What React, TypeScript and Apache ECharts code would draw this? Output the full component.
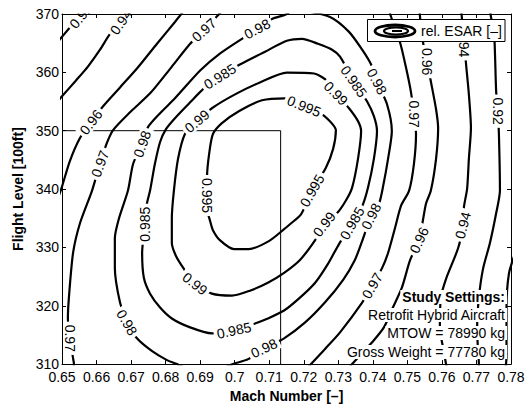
import React, { useEffect, useRef } from 'react';
import * as echarts from 'echarts';

const FONT = "'Liberation Sans', Arial, Helvetica, sans-serif";

// Axis ranges / ticks
const machMin = 0.65, machMax = 0.78, machStep = 0.01;
const flMin = 310, flMax = 370, flStep = 10;

// Contour lines, [Mach, FL]
const c090 = [[0.7812,329.0],[0.7794,325.5],[0.7787,319.7],[0.7787,314.6],[0.7787,311.2],[0.7784,309.2]];
const c092Left = [[0.6488,365.24],[0.65,366.09],[0.6529,368.13],[0.6555,369.66],[0.6569,370.85]];
const c092Right = [[0.7739,371.02],[0.7742,369.49],[0.7751,366.94],[0.7757,356.74],[0.7762,353.34],[0.7765,349.43],[0.7768,339.74],[0.7757,335.84],[0.7739,330.74],[0.7719,326.32],[0.7707,321.39],[0.7702,316.29],[0.7704,312.89],[0.7707,310.0],[0.7707,308.98]];
const c094Left = [[0.6488,355.04],[0.65,355.89],[0.6538,358.44],[0.6575,360.99],[0.661,363.88],[0.6639,366.6],[0.6671,368.64],[0.6685,370.85]];
const c094Right = [[0.7655,371.02],[0.7664,365.58],[0.767,361.33],[0.7678,356.23],[0.7684,350.45],[0.7678,345.18],[0.7673,340.08],[0.7664,337.02],[0.7661,333.8],[0.7647,329.89],[0.7612,324.62],[0.7597,321.39],[0.7594,316.29],[0.7603,312.89],[0.7612,310.0],[0.7615,308.98]];
const c096Left = [[0.6488,338.38],[0.65,340.42],[0.6523,344.84],[0.6552,348.75],[0.6584,351.47],[0.6619,354.19],[0.6668,357.42],[0.6717,360.65],[0.6775,364.9],[0.6827,368.64],[0.6859,371.02]];
const c096Right = [[0.7534,371.02],[0.7545,365.24],[0.7557,361.84],[0.7568,358.44],[0.7583,353.68],[0.7589,350.45],[0.7583,345.18],[0.7568,339.74],[0.7554,337.53],[0.7545,334.65],[0.7534,331.25],[0.7508,327.85],[0.7484,323.09],[0.7458,319.69],[0.7432,316.29],[0.7398,313.74],[0.7363,311.53],[0.734,310.0],[0.7322,308.81]];
const c097Left = [[0.6529,308.47],[0.6535,309.83],[0.6532,311.02],[0.6523,314.42],[0.6517,317.82],[0.652,321.39],[0.6532,329.04],[0.6552,334.14],[0.6587,339.74],[0.661,344.33],[0.663,347.9],[0.6648,350.11],[0.6697,353.17],[0.6755,356.4],[0.6818,360.99],[0.6871,364.9],[0.6911,367.28],[0.6955,370.0],[0.6972,371.19]];
const c097Right = [[0.7444,371.36],[0.745,370.0],[0.7479,365.07],[0.7496,360.82],[0.751,356.74],[0.7519,352.83],[0.7525,349.43],[0.7519,344.33],[0.7505,339.74],[0.7482,337.19],[0.7464,333.29],[0.7444,329.04],[0.7427,326.49],[0.7398,323.43],[0.7369,320.54],[0.7305,315.44],[0.7261,312.55],[0.7221,310.0],[0.7204,308.81]];
const c098Left = [[0.7175,371.36],[0.7151,370.0],[0.7108,369.15],[0.7065,367.45],[0.7021,365.75],[0.6957,363.2],[0.69,360.31],[0.6827,355.55],[0.6784,353.0],[0.6749,350.62],[0.6732,347.73],[0.6706,344.33],[0.6691,339.74],[0.6665,334.98],[0.6653,331.59],[0.6653,326.49],[0.6668,320.54],[0.6688,317.14],[0.6717,314.42],[0.6761,312.21],[0.6804,310.68],[0.6833,310.0],[0.6862,309.15]];
const c098Right = [[0.7189,370.68],[0.7276,369.49],[0.7331,366.94],[0.7369,363.88],[0.7395,361.33],[0.7412,358.44],[0.7441,354.53],[0.7455,349.94],[0.7444,345.18],[0.7429,340.25],[0.7418,337.53],[0.7395,335.33],[0.7369,331.08],[0.7348,327.85],[0.7314,324.45],[0.7261,320.54],[0.7204,317.14],[0.7143,314.42],[0.7085,312.72],[0.7039,310.85],[0.6995,310.0],[0.6963,309.15]];
const c0985 = [[0.6957,359.29],[0.7015,361.33],[0.7088,363.54],[0.7151,365.41],[0.7195,365.75],[0.7241,364.9],[0.7282,363.88],[0.7305,362.69],[0.7345,358.44],[0.7383,355.04],[0.7403,352.49],[0.7412,349.94],[0.7403,345.18],[0.7386,340.25],[0.7369,337.02],[0.734,334.14],[0.7302,330.57],[0.727,327.17],[0.7233,323.94],[0.7189,321.39],[0.7143,319.18],[0.7096,317.82],[0.7059,316.97],[0.6998,315.78],[0.6934,315.27],[0.6871,316.29],[0.6818,317.82],[0.6784,319.69],[0.6755,322.07],[0.6737,324.79],[0.6732,329.04],[0.674,333.97],[0.6746,337.53],[0.6755,339.74],[0.6769,344.33],[0.6784,348.07],[0.6801,350.28],[0.6827,352.15],[0.6871,354.87],[0.6911,357.25],[0.6957,359.29]];
const c099 = [[0.6891,351.64],[0.6934,353.85],[0.7001,356.23],[0.7073,358.27],[0.7151,359.97],[0.723,359.8],[0.727,358.44],[0.7293,356.4],[0.7331,353.85],[0.7357,351.64],[0.7366,349.94],[0.7357,345.18],[0.734,340.25],[0.7322,338.04],[0.7296,335.84],[0.7259,333.97],[0.7235,331.42],[0.7189,327.85],[0.7143,325.64],[0.7096,323.94],[0.7044,322.58],[0.6992,321.73],[0.6934,322.07],[0.6885,323.77],[0.6853,326.32],[0.683,328.53],[0.6818,330.74],[0.6818,334.98],[0.6824,339.74],[0.6836,345.18],[0.6856,349.43],[0.6891,351.64]];
const c0995 = [[0.692,338.89],[0.692,342.12],[0.6926,346.03],[0.6937,349.43],[0.6963,351.3],[0.7012,353.34],[0.7079,355.21],[0.7146,355.55],[0.7201,354.19],[0.7247,353.0],[0.727,351.98],[0.7293,350.11],[0.7285,346.88],[0.7264,343.65],[0.7224,339.74],[0.7192,335.67],[0.716,333.97],[0.7143,333.12],[0.7099,331.08],[0.7041,329.72],[0.6998,329.72],[0.6957,331.25],[0.6937,332.95],[0.6929,334.48],[0.692,336.68],[0.692,338.89]];

const contourLines = [c090, c092Left, c092Right, c094Left, c094Right, c096Left, c096Right, c097Left, c097Right, c098Left, c098Right, c0985, c099, c0995];

// Study-settings box outline (thin lines)
const boxPath = [[0.65, 350], [0.7133, 350], [0.7133, 310]];

// Contour labels
const labelText = ['0.92','0.94','0.96','0.97','0.97','0.97','0.98','0.98','0.98','0.985','0.985','0.99','0.995','0.995','0.99','0.985','0.98','0.995','0.99','0.985','0.98','0.99','0.985','0.98','0.97','0.97','0.96','0.96','0.94','0.94','0.92'];
const labelPos = [[0.6555,369.66],[0.6671,368.64],[0.6584,351.47],[0.661,344.33],[0.6911,367.28],[0.6523,314.42],[0.7065,367.45],[0.6732,347.73],[0.6688,317.14],[0.6957,359.29],[0.674,333.97],[0.6891,351.64],[0.692,338.89],[0.7201,354.19],[0.7293,356.4],[0.7345,358.44],[0.7412,358.44],[0.7224,339.74],[0.7259,333.97],[0.734,334.14],[0.7395,335.33],[0.6885,323.77],[0.6998,315.78],[0.7085,312.72],[0.7398,323.43],[0.7519,352.83],[0.7557,361.84],[0.7534,331.25],[0.7664,364.9],[0.7661,333.8],[0.7762,353.34]];
const labelAngle = [50,55,52,70,42,-90,28,70,-60,32,90,40,-90,-22,-45,-55,-62,60,52,60,63,-38,12,25,60,-90,-90,65,-90,75,-90];

const studyLines = ['Study Settings:', 'Retrofit Hybrid Aircraft', 'MTOW = 78990 kg', 'Gross Weight = 77780 kg'];
const legendLabel = 'rel. ESAR [–]';

export default function App() {
  const ref = useRef<HTMLDivElement>(null);
  useEffect(() => {
    const chart = echarts.init(ref.current!, undefined, { renderer: 'svg' });
    const axisCommon = {
      axisLine: { show: true, onZero: false, lineStyle: { color: '#000', width: 1 } },
      axisTick: { show: true, inside: true, length: 4, lineStyle: { color: '#000', width: 1 } },
      splitLine: { show: false },
      z: 10,
    };
    const series: any[] = contourLines.map((pts) => ({
      type: 'line',
      data: pts,
      symbol: 'none',
      smooth: 0.25,
      silent: true,
      lineStyle: { color: '#000', width: 2.2 },
      z: 2,
    }));
    series.push({
      type: 'line',
      data: boxPath,
      symbol: 'none',
      silent: true,
      lineStyle: { color: '#000', width: 1 },
      z: 3,
    });
    series.push({
      type: 'custom',
      silent: true,
      z: 4,
      data: labelPos.map((v, i) => [v[0], v[1], labelAngle[i], i]),
      renderItem: (params: any, api: any) => {
        const p = api.coord([api.value(0), api.value(1)]);
        const ang = api.value(2);
        const idx = api.value(3);
        return {
          type: 'text',
          x: p[0],
          y: p[1],
          rotation: (ang * Math.PI) / 180,
          style: {
            text: labelText[idx],
            fill: '#000',
            font: `14px ${FONT}`,
            align: 'center',
            verticalAlign: 'middle',
            backgroundColor: '#fff',
            padding: [0, 3],
          },
        };
      },
    });

    const studyY = [297, 315, 333, 352];
    const graphic: any[] = [
      { type: 'rect', shape: { x: 62.5, y: 0, width: 466, height: 13.5 }, style: { fill: '#fff' }, z: 5, silent: true },
      { type: 'rect', shape: { x: 367.5, y: 19.5, width: 137.5, height: 22 }, style: { fill: '#fff', stroke: '#000', lineWidth: 1 }, z: 20 },
      { type: 'ellipse', shape: { cx: 395, cy: 31, rx: 20, ry: 6 }, style: { fill: 'none', stroke: '#000', lineWidth: 2.8 }, z: 21 },
      { type: 'ellipse', shape: { cx: 396, cy: 31, rx: 12, ry: 3.6 }, style: { fill: 'none', stroke: '#000', lineWidth: 2.2 }, z: 21 },
      { type: 'line', shape: { x1: 392, y1: 31, x2: 402, y2: 31 }, style: { stroke: '#000', lineWidth: 2 }, z: 21 },
      { type: 'text', x: 421, y: 31, z: 21, style: { text: legendLabel, fill: '#000', font: `14px ${FONT}`, align: 'left', verticalAlign: 'middle' } },
    ];
    studyLines.forEach((t, i) => {
      graphic.push({
        type: 'text', x: 507, y: studyY[i], z: 20,
        style: {
          text: t, fill: '#000', font: `${i === 0 ? 'bold ' : ''}14px ${FONT}`,
          align: 'right', verticalAlign: 'middle', backgroundColor: '#fff', padding: [0, 2],
        },
      });
    });

    chart.setOption({
      animation: false,
      backgroundColor: '#fff',
      textStyle: { fontFamily: FONT },
      grid: { left: 62, right: 18, top: 14, bottom: 41, containLabel: false },
      xAxis: [
        {
          type: 'value', min: machMin, max: machMax, interval: machStep, position: 'bottom', ...axisCommon,
          axisLabel: { color: '#000', fontSize: 14, margin: 6, fontFamily: FONT },
          name: 'Mach Number [–]', nameLocation: 'middle', nameGap: 24,
          nameTextStyle: { color: '#000', fontSize: 14, fontWeight: 'bold', fontFamily: FONT },
        },
        { type: 'value', min: machMin, max: machMax, interval: machStep, position: 'top', ...axisCommon, axisLabel: { show: false } },
      ],
      yAxis: [
        {
          type: 'value', min: flMin, max: flMax, interval: flStep, position: 'left', ...axisCommon,
          axisLabel: { color: '#000', fontSize: 14, margin: 3, fontFamily: FONT },
          name: 'Flight Level [100ft]', nameLocation: 'middle', nameGap: 33, nameRotate: 90,
          nameTextStyle: { color: '#000', fontSize: 14, fontWeight: 'bold', fontFamily: FONT },
        },
        { type: 'value', min: flMin, max: flMax, interval: flStep, position: 'right', ...axisCommon, axisLabel: { show: false } },
      ],
      series,
      graphic,
    });
    return () => chart.dispose();
  }, []);
  return <div ref={ref} style={{ position: 'fixed', left: 0, top: 0, width: 529, height: 408 }} />;
}
